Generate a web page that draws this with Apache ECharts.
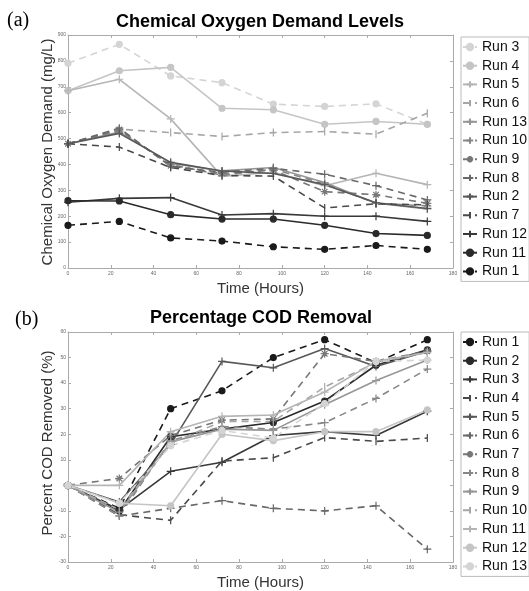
<!DOCTYPE html>
<html>
<head>
<meta charset="utf-8">
<script src="https://cdn.jsdelivr.net/npm/echarts@6/dist/echarts.min.js"></script>
<style>
  html, body { margin: 0; padding: 0; background: #fff; }
  #main { width: 529px; height: 591px; }
</style>
</head>
<body>
<div id="main"></div>
<script>
// sampling times (hours)
var hours = [0, 24, 48, 72, 96, 120, 144, 168];
var timeTicks = [0, 20, 40, 60, 80, 100, 120, 140, 160, 180];
var codTicks = [0, 100, 200, 300, 400, 500, 600, 700, 800, 900];
var removalTicks = [-30, -20, -10, 0, 10, 20, 30, 40, 50, 60];

// (a) COD in mg/L, in legend order
var codNames = ['Run 3', 'Run 4', 'Run 5', 'Run 6', 'Run 13', 'Run 10', 'Run 9', 'Run 8', 'Run 2', 'Run 7', 'Run 12', 'Run 11', 'Run 1'];
var codRun3 = [791, 864, 742, 716, 633, 624, 634, 555];
var codRun4 = [685, 762, 775, 617, 611, 555, 566, 555];
var codRun5 = [685, 729, 576, 354, 370, 318, 366, 322];
var codRun6 = [480, 536, 523, 508, 523, 527, 517, 598];
var codRun13 = [480, 525, 405, 375, 388, 330, 250, 228];
var codRun10 = [480, 530, 400, 358, 382, 325, 250, 240];
var codRun9 = [480, 535, 395, 365, 378, 295, 283, 250];
var codRun8 = [480, 540, 392, 370, 385, 362, 318, 263];
var codRun2 = [480, 520, 408, 375, 365, 322, 252, 230];
var codRun7 = [480, 467, 388, 357, 355, 232, 248, 244];
var codRun12 = [254, 269, 272, 205, 210, 200, 200, 180];
var codRun11 = [260, 259, 206, 189, 189, 165, 133, 126];
var codRun1 = [165, 180, 116, 104, 82, 72, 87, 72];
var codValues = [codRun3, codRun4, codRun5, codRun6, codRun13, codRun10, codRun9, codRun8, codRun2, codRun7, codRun12, codRun11, codRun1];

// (b) percent COD removed
var removalNames = ['Run 1', 'Run 2', 'Run 3', 'Run 4', 'Run 5', 'Run 6', 'Run 7', 'Run 8', 'Run 9', 'Run 10', 'Run 11', 'Run 12', 'Run 13'];
var remRun1 = [0, -9, 30, 37, 50, 57, 48, 57];
var remRun2 = [0, -10, 19, 22, 24.6, 33, 47, 53];
var remRun3 = [0, -9.5, 5.5, 9, 19.5, 21, 19.5, 29];
var remRun4 = [0, -11.5, -13.7, 9.5, 10.8, 18.7, 17.2, 18.5];
var remRun5 = [0, -6.5, 16, 48.5, 46, 53.5, 46.5, 52.5];
var remRun6 = [0, -12, -9, -6, -9, -10, -8, -25];
var remRun7 = [0, 2.7, 19.5, 25.5, 26, 51.5, 48.5, 52.5];
var remRun8 = [0, -12, 17.5, 23, 22, 24.5, 34, 45.5];
var remRun9 = [0, -10.5, 17, 22, 21.5, 31.5, 41, 49];
var remRun10 = [0, -9.5, 16.5, 25, 25, 38.5, 48, 52];
var remRun11 = [0, 0, 21, 27, 27.5, 36.5, 48.5, 52];
var remRun12 = [0, -7, -8, 20, 17.5, 21, 21, 29.5];
var remRun13 = [0, -7, 15.5, 21.5, 18.5, 32, 48.5, 49];
var removalValues = [remRun1, remRun2, remRun3, remRun4, remRun5, remRun6, remRun7, remRun8, remRun9, remRun10, remRun11, remRun12, remRun13];

// line style / marker per legend position (same pattern in both panels)
var lineTypes = ['dashed', 'solid', 'solid', 'dashed', 'solid', 'dashed', 'dashed', 'dashed', 'solid', 'dashed', 'solid', 'solid', 'dashed'];
var markers = ['o', 'o', '+', '|', '+', '+', '*', '+', '+', '|', '+', 'o', 'o'];

var plusPath = 'path://M5,0L5,10M0,5L10,5';
var starPath = 'path://M5,0L5,10M0,5L10,5M1.5,1.5L8.5,8.5M1.5,8.5L8.5,1.5';
// vertical bar; the tiny corner stubs only keep the box square
var barPath = 'path://M5,0L5,10M0,10L0,10.01M10,10L10,10.01';

function grayAt(i, darkFirst) {
  var k = darkFirst ? 12 - i : i;
  var v = Math.round(212 - k * 15.5);
  return 'rgb(' + v + ',' + v + ',' + v + ')';
}

function makeSeries(name, values, pos, darkFirst, axisIdx) {
  var c = grayAt(pos, darkFirst);
  var m = markers[pos];
  var s = {
    name: name,
    type: 'line',
    xAxisIndex: axisIdx,
    yAxisIndex: axisIdx,
    data: hours.map(function (h, i) { return [h, values[i]]; }),
    lineStyle: { color: c, width: 1.6, type: lineTypes[pos] === 'dashed' ? [7, 5] : 'solid' },
    itemStyle: { color: c, borderColor: c, borderWidth: 1.2 },
    showSymbol: true,
    symbolKeepAspect: true,
    animation: false
  };
  if (m === 'o') { s.symbol = 'circle'; s.symbolSize = 6; }
  if (m === '+') { s.symbol = plusPath; s.symbolSize = 8; }
  if (m === '*') { s.symbol = starPath; s.symbolSize = 8; }
  if (m === '|') { s.symbol = barPath; s.symbolSize = 8; }
  return s;
}

var series = [];
for (var i = 0; i < codNames.length; i++) {
  series.push(makeSeries(codNames[i], codValues[i], i, false, 0));
}
for (var j = 0; j < removalNames.length; j++) {
  // trailing space keeps the two legends apart, trimmed in the formatter
  series.push(makeSeries(removalNames[j] + ' ', removalValues[j], j, true, 2));
}

var boxLine = { show: true, onZero: false, lineStyle: { color: '#aaa', width: 1 } };
var inTick = { inside: true, length: 3, lineStyle: { color: '#aaa' } };
var nameFont = { fontSize: 15, color: '#333', fontFamily: 'Liberation Sans' };

function xAxes(gridIdx) {
  return [{
    type: 'value', gridIndex: gridIdx,
    min: timeTicks[0], max: timeTicks[timeTicks.length - 1], interval: timeTicks[1] - timeTicks[0],
    name: 'Time (Hours)', nameLocation: 'middle', nameGap: 13,
    nameTextStyle: nameFont,
    axisLine: boxLine, axisTick: inTick, splitLine: { show: false },
    axisLabel: { fontSize: 5, color: '#666', fontFamily: 'Liberation Sans', margin: 3 }
  }, {
    type: 'value', gridIndex: gridIdx, position: 'top',
    min: timeTicks[0], max: timeTicks[timeTicks.length - 1], interval: timeTicks[1] - timeTicks[0],
    axisLine: boxLine, axisTick: inTick, splitLine: { show: false }, axisLabel: { show: false }
  }];
}

function yAxes(gridIdx, ticks) {
  return [{
    type: 'value', gridIndex: gridIdx,
    min: ticks[0], max: ticks[ticks.length - 1], interval: ticks[1] - ticks[0],
    axisLine: boxLine, axisTick: inTick, splitLine: { show: false },
    axisLabel: { fontSize: 5, color: '#666', fontFamily: 'Liberation Sans', margin: 2 }
  }, {
    type: 'value', gridIndex: gridIdx, position: 'right',
    min: ticks[0], max: ticks[ticks.length - 1], interval: ticks[1] - ticks[0],
    axisLine: boxLine, axisTick: inTick, splitLine: { show: false }, axisLabel: { show: false }
  }];
}

function legendAt(top, names) {
  return {
    orient: 'vertical',
    left: 461,
    top: top,
    padding: [3, 2, 3, 1],
    itemWidth: 14,
    itemHeight: 8,
    itemGap: 4.7,
    borderColor: '#bbb',
    borderWidth: 1,
    backgroundColor: '#fff',
    data: names,
    formatter: function (n) { return n.trim(); },
    textStyle: { fontSize: 14, color: '#111', fontFamily: 'Liberation Sans' }
  };
}

// rotated y axis titles
function yTitle(text, cx, cy) {
  return {
    type: 'text', x: cx, y: cy, rotation: Math.PI / 2,
    style: { x: 0, y: 0, text: text, font: '15px "Liberation Sans"', fill: '#333', textAlign: 'center', textVerticalAlign: 'middle' }
  };
}

var option = {
  backgroundColor: '#fff',
  animation: false,
  grid: [
    { left: 68, top: 35, width: 385, height: 233 },
    { left: 68, top: 332, width: 385, height: 233 }
  ],
  xAxis: xAxes(0).concat(xAxes(1)),
  yAxis: yAxes(0, codTicks).concat(yAxes(1, removalTicks)),
  legend: [
    legendAt(37, codNames),
    legendAt(332, removalNames.map(function (n) { return n + ' '; }))
  ],
  graphic: [
    { type: 'text', style: { x: 7, y: 21, text: '(a)', font: '20px "Liberation Serif"', fill: '#000', textVerticalAlign: 'middle' } },
    { type: 'text', style: { x: 260, y: 22, text: 'Chemical Oxygen Demand Levels', font: 'bold 18px "Liberation Sans"', fill: '#000', textAlign: 'center', textVerticalAlign: 'middle' } },
    { type: 'text', style: { x: 15, y: 320, text: '(b)', font: '20px "Liberation Serif"', fill: '#000', textVerticalAlign: 'middle' } },
    { type: 'text', style: { x: 261, y: 318, text: 'Percentage COD Removal', font: 'bold 18px "Liberation Sans"', fill: '#000', textAlign: 'center', textVerticalAlign: 'middle' } },
    yTitle('Chemical Oxygen Demand (mg/L)', 48, 152),
    yTitle('Percent COD Removed (%)', 48, 443)
  ],
  series: series
};

var chart = echarts.init(document.getElementById('main'), null, { renderer: 'canvas' });
chart.setOption(option);
</script>
</body>
</html>
